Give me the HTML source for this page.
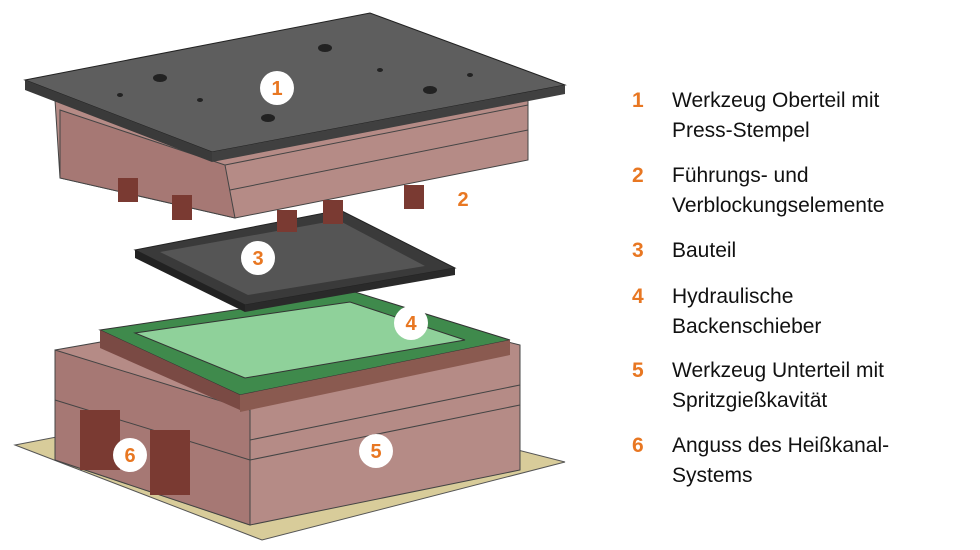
<!DOCTYPE html>
<html><head><meta charset="utf-8"><style>
body{margin:0;background:#fff;width:980px;height:550px;overflow:hidden;font-family:"Liberation Sans",sans-serif}
.leg{position:absolute;left:632px;font-size:21px;color:#111;line-height:30px}
.leg b{position:absolute;left:0;color:#e87722;font-weight:bold}
.leg span{position:absolute;left:40px;white-space:nowrap}
</style></head><body>
<svg width="980" height="550" style="position:absolute;left:0;top:0">
<polygon points="15,445 290,392 565,462 262,540" fill="#d8cc9a" stroke="#555" stroke-width="1"/>
<polygon points="55,350 340,300 520,345 520,470 250,525 55,460" fill="#b58b86" stroke="#444"/>
<polygon points="55,350 250,410 250,525 55,460" fill="#a67874" stroke="#444"/>
<line x1="55" y1="400" x2="250" y2="460" stroke="#444"/>
<line x1="250" y1="460" x2="520" y2="405" stroke="#444"/>
<line x1="250" y1="440" x2="520" y2="385" stroke="#444"/>
<rect x="80" y="410" width="40" height="60" fill="#7a3a32"/>
<rect x="150" y="430" width="40" height="65" fill="#7a3a32"/>
<polygon points="100,330 355,292 510,340 240,395" fill="#3f8a4c" stroke="#333"/>
<polygon points="135,333 350,302 465,340 245,378" fill="#8fd19a" stroke="#333"/>
<polygon points="100,330 240,395 240,410 100,348" fill="#7a4a44"/>
<polygon points="240,395 510,340 510,355 240,412" fill="#8a5a50"/>
<polygon points="135,250 340,210 455,268 245,305" fill="#3a3a3a" stroke="#222"/>
<polygon points="160,252 338,220 425,266 248,295" fill="#555"/>
<polygon points="135,250 245,305 245,312 135,258" fill="#222"/>
<polygon points="245,305 455,268 455,275 245,312" fill="#2a2a2a"/>
<polygon points="55,100 370,40 528,100 528,160 235,218 60,178" fill="#b58b86" stroke="#444"/>
<polygon points="60,110 225,165 235,218 60,178" fill="#a67874" stroke="#444"/>
<line x1="225" y1="165" x2="528" y2="105" stroke="#444"/>
<line x1="230" y1="190" x2="528" y2="130" stroke="#444"/>
<rect x="118" y="178" width="20" height="24" fill="#7a3a32"/>
<rect x="172" y="195" width="20" height="25" fill="#7a3a32"/>
<rect x="277" y="210" width="20" height="22" fill="#7a3a32"/>
<rect x="323" y="200" width="20" height="24" fill="#7a3a32"/>
<rect x="404" y="185" width="20" height="24" fill="#7a3a32"/>
<polygon points="25,80 370,13 565,85 212,152" fill="#5e5e5e" stroke="#222"/>
<polygon points="25,80 212,152 212,162 25,90" fill="#3a3a3a"/>
<polygon points="212,152 565,85 565,94 212,162" fill="#404040"/>
<g fill="#222"><ellipse cx="160" cy="78" rx="7" ry="4"/><ellipse cx="325" cy="48" rx="7" ry="4"/><ellipse cx="430" cy="90" rx="7" ry="4"/><ellipse cx="268" cy="118" rx="7" ry="4"/><ellipse cx="200" cy="100" rx="3" ry="2"/><ellipse cx="380" cy="70" rx="3" ry="2"/><ellipse cx="470" cy="75" rx="3" ry="2"/><ellipse cx="120" cy="95" rx="3" ry="2"/></g>
<g font-size="20" font-weight="bold" text-anchor="middle" font-family="Liberation Sans,sans-serif">
<circle cx="277" cy="88" r="17" fill="#fff"/><text x="277" y="95" fill="#e87722">1</text>
<text x="463" y="206" fill="#e87722">2</text>
<circle cx="258" cy="258" r="17" fill="#fff"/><text x="258" y="265" fill="#e87722">3</text>
<circle cx="411" cy="323" r="17" fill="#fff"/><text x="411" y="330" fill="#e87722">4</text>
<circle cx="376" cy="451" r="17" fill="#fff"/><text x="376" y="458" fill="#e87722">5</text>
<circle cx="130" cy="455" r="17" fill="#fff"/><text x="130" y="462" fill="#e87722">6</text>
</g>
</svg>
<div class="leg" style="top:86px"><b>1</b><span>Werkzeug Oberteil mit</span><span style="top:30px">Press-Stempel</span></div>
<div class="leg" style="top:161px"><b>2</b><span>Führungs- und</span><span style="top:30px">Verblockungselemente</span></div>
<div class="leg" style="top:236px"><b>3</b><span>Bauteil</span></div>
<div class="leg" style="top:282px"><b>4</b><span>Hydraulische</span><span style="top:30px">Backenschieber</span></div>
<div class="leg" style="top:356px"><b>5</b><span>Werkzeug Unterteil mit</span><span style="top:30px">Spritzgießkavität</span></div>
<div class="leg" style="top:431px"><b>6</b><span>Anguss des Heißkanal-</span><span style="top:30px">Systems</span></div>
</body></html>
